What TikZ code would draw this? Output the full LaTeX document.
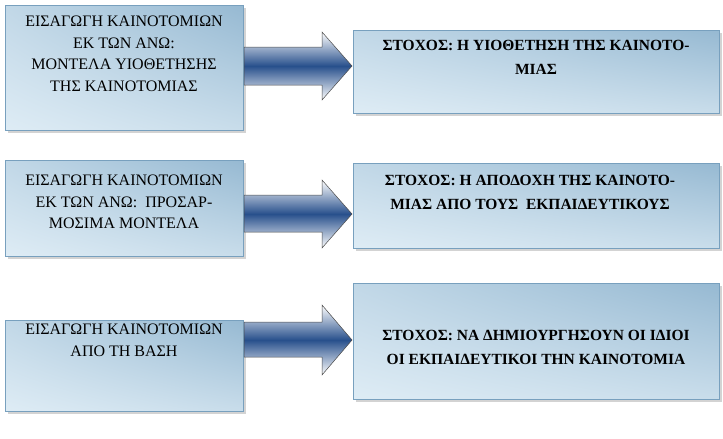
\documentclass[tikz,border=0pt]{standalone}
\usepackage{fontspec}
\setmainfont{Liberation Serif}
\usetikzlibrary{shadows,shadings}
\definecolor{boxlight}{RGB}{222,236,245}
\definecolor{boxdark}{RGB}{150,185,210}
\definecolor{edge}{RGB}{120,160,190}
\definecolor{arrowblue}{RGB}{40,80,140}
\tikzset{
  panel/.style={draw=edge, line width=0.6pt, lower left=boxlight, upper right=boxdark, lower right=boxlight!70!boxdark, upper left=boxlight!60!boxdark,
    drop shadow={shadow xshift=3pt,shadow yshift=-3pt,opacity=0.35}},
  ltext/.style={align=center, font=\fontsize{16}{21.5}\selectfont, anchor=north, inner sep=0pt},
  rtext/.style={align=center, font=\fontsize{15.5}{24}\selectfont\bfseries, anchor=north, inner sep=0pt},
  bigarrow/.style={draw=black!70, line width=0.5pt, top color=white, bottom color=white, middle color=arrowblue}
}
\begin{document}
\begin{tikzpicture}[x=1pt,y=-1pt]
\useasboundingbox (0,0) rectangle (723,439);
% left boxes
\path[panel] (5,5) rectangle (243,130);
\path[panel] (5,160) rectangle (243,256);
\path[panel] (5,320) rectangle (243,411);
% right boxes
\path[panel] (353,30) rectangle (719,113);
\path[panel] (353,163) rectangle (719,248);
\path[panel] (353,283) rectangle (719,399);
% arrows
\path[bigarrow] (244,47) -- (322,47) -- (322,32) -- (352,66) -- (322,100) -- (322,85) -- (244,85) -- cycle;
\path[bigarrow] (244,195) -- (322,195) -- (322,180) -- (352,214) -- (322,248) -- (322,232) -- (244,232) -- cycle;
\path[bigarrow] (244,322) -- (322,322) -- (322,305) -- (352,340) -- (322,375) -- (322,357) -- (244,357) -- cycle;
% texts
\node[ltext] (t1) at (124,16) {ΕΙΣΑΓΩΓΗ ΚΑΙΝΟΤΟΜΙΩΝ\\ΕΚ ΤΩΝ ΑΝΩ:\\ΜΟΝΤΕΛΑ ΥΙΟΘΕΤΗΣΗΣ\\ΤΗΣ ΚΑΙΝΟΤΟΜΙΑΣ};
\node[ltext] (t2) at (124,175) {ΕΙΣΑΓΩΓΗ ΚΑΙΝΟΤΟΜΙΩΝ\\ΕΚ ΤΩΝ ΑΝΩ:\ \ ΠΡΟΣΑΡ-\\ΜΟΣΙΜΑ ΜΟΝΤΕΛΑ};
\node[ltext] (t3) at (124,324) {ΕΙΣΑΓΩΓΗ ΚΑΙΝΟΤΟΜΙΩΝ\\ΑΠΟ ΤΗ ΒΑΣΗ};
\node[rtext] (r1) at (536,40) {ΣΤΟΧΟΣ: Η ΥΙΟΘΕΤΗΣΗ ΤΗΣ ΚΑΙΝΟΤΟ-\\ΜΙΑΣ};
\node[rtext] (r2) at (530,175) {ΣΤΟΧΟΣ: Η ΑΠΟΔΟΧΗ ΤΗΣ ΚΑΙΝΟΤΟ-\\ΜΙΑΣ ΑΠΟ ΤΟΥΣ\ \ ΕΚΠΑΙΔΕΥΤΙΚΟΥΣ};
\node[rtext] (r3) at (536,330) {ΣΤΟΧΟΣ: ΝΑ ΔΗΜΙΟΥΡΓΗΣΟΥΝ ΟΙ ΙΔΙΟΙ\\ΟΙ ΕΚΠΑΙΔΕΥΤΙΚΟΙ ΤΗΝ ΚΑΙΝΟΤΟΜΙΑ};
\end{tikzpicture}
\end{document}
